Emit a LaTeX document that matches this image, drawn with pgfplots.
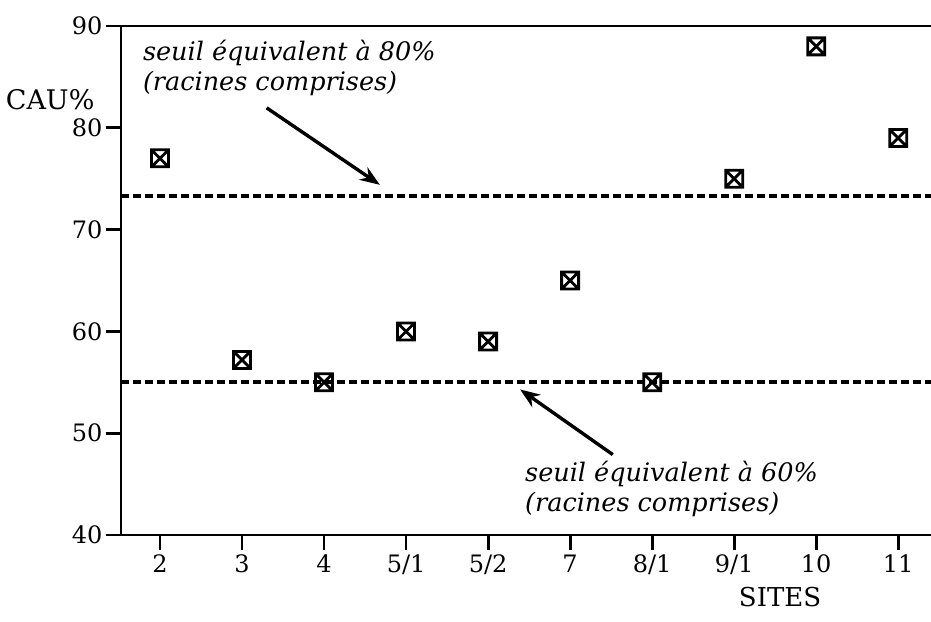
\documentclass[border=0pt]{standalone}
\usepackage{fontspec}
\setmainfont{DejaVu Serif}
\usepackage{pgfplots}
\pgfplotsset{compat=1.18}
\usetikzlibrary{arrows.meta}

\newcommand\tickf{\fontsize{24}{28}\selectfont}
\newcommand\txtf{\fontsize{25.5}{30}\selectfont}

% square with a cross, as in the scanned figure
\pgfdeclareplotmark{boxx}{%
  \pgfpathrectangle{\pgfpoint{-\pgfplotmarksize}{-\pgfplotmarksize}}{\pgfpoint{2\pgfplotmarksize}{2\pgfplotmarksize}}%
  \pgfpathmoveto{\pgfpoint{-\pgfplotmarksize}{-\pgfplotmarksize}}%
  \pgfpathlineto{\pgfpoint{\pgfplotmarksize}{\pgfplotmarksize}}%
  \pgfpathmoveto{\pgfpoint{-\pgfplotmarksize}{\pgfplotmarksize}}%
  \pgfpathlineto{\pgfpoint{\pgfplotmarksize}{-\pgfplotmarksize}}%
  \pgfusepathqstroke}

\pgfplotstableread{
idx cau
0 77
1 57.2
2 55
3 60
4 59
5 65
6 55
7 75
8 88
9 79
}\caudata

\begin{document}
\begin{tikzpicture}
\begin{axis}[
  scale only axis,
  width=810pt, height=509pt,
  xmin=-0.476, xmax=9.4,
  ymin=40, ymax=90,
  axis lines*=left,
  axis line style={line width=2.9pt},
  tick align=outside,
  major tick length=15pt,
  tick style={line width=2.8pt, black},
  xtick={0,...,9},
  xticklabels={2,3,4,5/1,5/2,7,8/1,9/1,10,11},
  ytick={40,50,...,90},
  tick label style={font=\tickf},
  xticklabel style={yshift=-1pt},
  /pgf/number format/assume math mode=true,
  clip=false,
]
\draw[line width=2.9pt] (rel axis cs:0,1) -- (rel axis cs:1,1);

\addplot[black, line width=4pt, dash pattern=on 8pt off 4pt]
  coordinates {(-0.476,73.3) (9.4,73.3)};
\addplot[black, line width=4pt, dash pattern=on 8pt off 4pt]
  coordinates {(-0.476,55) (9.4,55)};

\addplot[only marks, mark=boxx, mark size=8.5pt,
  mark options={line width=2.8pt, black}] table[x=idx, y=cau] {\caudata};

\draw[-{Stealth[length=20pt,width=15pt]}, line width=3.4pt]
  (axis cs:1.30,81.96) -- (axis cs:2.68,74.4);
\draw[-{Stealth[length=20pt,width=15pt]}, line width=3.4pt]
  (axis cs:5.52,47.9) -- (axis cs:4.39,54.3);

\node[anchor=north west, align=left, font=\txtf\itshape, inner sep=0pt]
  at (axis cs:-0.21,88.6) {seuil équivalent à 80\%\\(racines comprises)};
\node[anchor=north west, align=left, font=\txtf\itshape, inner sep=0pt]
  at (axis cs:4.45,47.25) {seuil équivalent à 60\%\\(racines comprises)};

\node[font=\fontsize{27}{30}\selectfont] at (axis cs:-1.34,82.75) {CAU\%};
\node[font=\fontsize{26}{30}\selectfont] at (axis cs:7.56,33.9) {SITES};
\end{axis}
\pgfresetboundingbox
\path (-121pt,-86pt) rectangle (810pt,535pt);
\end{tikzpicture}
\end{document}
